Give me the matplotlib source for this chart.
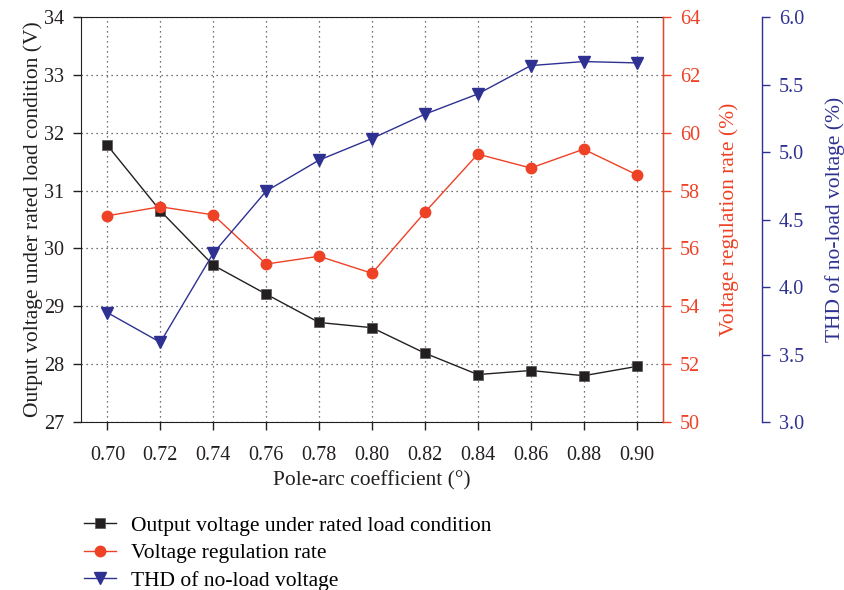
import matplotlib
matplotlib.use("Agg")
import matplotlib.pyplot as plt

plt.rcParams['font.family'] = ['Liberation Serif', 'DejaVu Serif']

pole_arc = [0.70, 0.72, 0.74, 0.76, 0.78, 0.80, 0.82, 0.84, 0.86, 0.88, 0.90]
output_voltage = [31.78, 30.65, 29.71, 29.21, 28.72, 28.63, 28.19, 27.82, 27.89, 27.80, 27.96]
regulation_rate = [57.13, 57.44, 57.16, 55.46, 55.73, 55.14, 57.25, 59.26, 58.78, 59.43, 58.55]
thd = [3.81, 3.59, 4.25, 4.71, 4.94, 5.10, 5.28, 5.43, 5.64, 5.67, 5.66]

xticks = [0.70, 0.72, 0.74, 0.76, 0.78, 0.80, 0.82, 0.84, 0.86, 0.88, 0.90]
xtick_labels = ["0.70", "0.72", "0.74", "0.76", "0.78", "0.80", "0.82", "0.84", "0.86", "0.88", "0.90"]

BLACK = '#231f20'
RED = '#ee4125'
BLUE = '#2e3192'
TFS = 14.5
LFS = 15.5

fig = plt.figure(figsize=(8.44, 5.90), dpi=100)
ax = fig.add_axes([81/844, 1-422/590, (663-81)/844, (422-17)/590])
ax2 = ax.twinx()
ax3 = ax.twinx()
ax3.spines['right'].set_position(('axes', (762-81)/(663-81)))

l1, = ax.plot(pole_arc, output_voltage, color=BLACK, marker='s', markersize=7,
              markeredgecolor='#555555', markeredgewidth=0.5, lw=1.0,
              label='Output voltage under rated load condition')
l2, = ax2.plot(pole_arc, regulation_rate, color=RED, marker='o', markersize=7.5,
               lw=1.0, label='Voltage regulation rate')
l3, = ax3.plot(pole_arc, thd, color=BLUE, marker='v', markersize=8.5,
               lw=1.0, label='THD of no-load voltage')

ax.set_xlim(0.69, 0.91)
ax.set_ylim(27, 34)
ax2.set_ylim(50, 64)
ax3.set_ylim(3.0, 6.0)

ax.set_xticks(xticks)
ax.set_xticklabels(xtick_labels)
ax.set_yticks(range(27, 35))
ax2.set_yticks(range(50, 65, 2))
ax3.set_yticks([3.0, 3.5, 4.0, 4.5, 5.0, 5.5, 6.0])
ax3.set_yticklabels(["3.0", "3.5", "4.0", "4.5", "5.0", "5.5", "6.0"])

ax.grid(True, linestyle=(0, (1, 3)), color='#444444', linewidth=0.9)

for a in (ax, ax2, ax3):
    a.tick_params(labelsize=TFS, direction='out', length=5.5, width=1, pad=6.5)
ax.tick_params(axis='x', pad=12)

ax.tick_params(colors=BLACK)
for s in ['left', 'bottom', 'top']:
    ax.spines[s].set_color(BLACK)
ax2.spines['right'].set_color(RED)
ax2.tick_params(axis='y', colors=RED)
ax3.spines['right'].set_color(BLUE)
ax3.tick_params(axis='y', colors=BLUE)
for a in (ax2, ax3):
    a.spines['left'].set_visible(False)
    a.spines['top'].set_visible(False)
    a.spines['bottom'].set_visible(False)
ax2.spines['right'].set_linewidth(1.0)
ax3.spines['right'].set_linewidth(1.0)

ax.set_xlabel('Pole-arc coefficient (°)', fontsize=LFS, color=BLACK, labelpad=4)
ax.set_ylabel('Output voltage under rated load condition (V)', fontsize=LFS, color=BLACK, labelpad=1)
ax2.set_ylabel('Voltage regulation rate (%)', fontsize=LFS, color=RED, labelpad=14)
ax3.set_ylabel('THD of no-load voltage (%)', fontsize=LFS, color=BLUE, labelpad=15)

fig.legend(handles=[l1, l2, l3], loc='upper left', bbox_to_anchor=(75/844, 1-507/590),
           frameon=False, fontsize=LFS, handlelength=1.5, handletextpad=0.7,
           labelspacing=0.35, borderaxespad=0)

fig.savefig('out.png', dpi=100)
